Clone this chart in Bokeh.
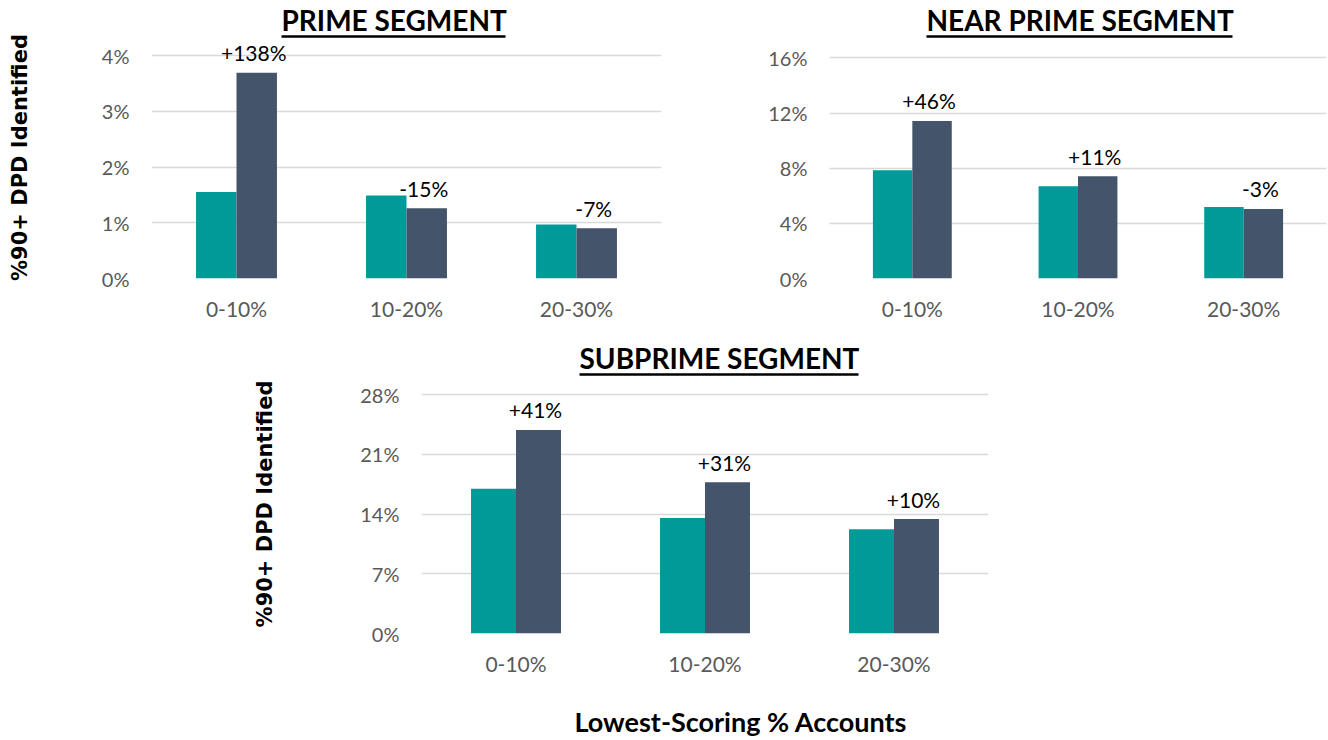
from bokeh.plotting import figure
from bokeh.models import (Range1d, FixedTicker, PrintfTickFormatter,
                          LinearAxis, Title, ColumnDataSource, Spacer)
from bokeh.transform import dodge
from bokeh.layouts import row, column
from bokeh.core.properties import value
from bokeh.embed import file_html
from bokeh.resources import INLINE

# ---------------- data ----------------
categories = ["0-10%", "10-20%", "20-30%"]

prime_base = [1.55, 1.49, 0.97]
prime_new = [3.69, 1.26, 0.90]
prime_delta = ["+138%", "-15%", "-7%"]

near_base = [7.85, 6.70, 5.19]
near_new = [11.43, 7.42, 5.05]
near_delta = ["+46%", "+11%", "-3%"]

sub_base = [16.99, 13.55, 12.22]
sub_new = [23.88, 17.74, 13.43]
sub_delta = ["+41%", "+31%", "+10%"]

prime_ticks = [0, 1, 2, 3, 4]
near_ticks = [0, 4, 8, 12, 16]
sub_ticks = [0, 7, 14, 21, 28]

titles = ["PRIME SEGMENT", "NEAR PRIME SEGMENT", "SUBPRIME SEGMENT"]
y_label = "%90+ DPD Identified"
x_label = "Lowest-Scoring % Accounts"

# ---------------- style ----------------
TEAL = "#009B98"
SLATE = "#44546A"
GRID = "#D9D9D9"
TICK_COL = "#595959"
FONT = "Lato"
BAR_W = 0.238

N = len(categories)
cat_pos = [i + 0.5 for i in range(N)]          # category slot centres


def make_panel(title, base, new, delta, ticks, *, width, height, border_left,
               border_right, border_top, border_bottom, top_tick_px,
               ul_left, ul_right, ylab_standoff=None):
    frame_h = height - border_top - border_bottom
    frame_w = width - border_left - border_right
    y_end = ticks[-1] * frame_h / top_tick_px
    p = figure(width=width, height=height, x_range=Range1d(0, N),
               y_range=Range1d(0, y_end), output_backend="svg",
               toolbar_location=None, title=None,
               min_border_left=border_left, min_border_right=border_right,
               min_border_top=border_top, min_border_bottom=border_bottom)
    p.outline_line_color = None
    p.background_fill_color = "white"
    p.border_fill_color = "white"

    src = ColumnDataSource(dict(pos=cat_pos, base=base, new=new, delta=delta))
    p.vbar(x=dodge("pos", -BAR_W / 2), top="base", width=BAR_W,
           source=src, fill_color=TEAL, line_color=None)
    p.vbar(x=dodge("pos", BAR_W / 2), top="new", width=BAR_W,
           source=src, fill_color=SLATE, line_color=None)
    p.text(x=dodge("pos", BAR_W / 2), y="new", text="delta",
           source=src, y_offset=-20, x_offset=-3, text_align="center",
           text_baseline="middle", text_font=value(FONT),
           text_font_size="21px", text_color="black")

    # axes
    p.xgrid.grid_line_color = None
    p.ygrid.grid_line_color = GRID
    p.ygrid.grid_line_width = 1.5
    p.xaxis.ticker = FixedTicker(ticks=cat_pos)
    p.xaxis.major_label_overrides = {pos: c for pos, c in zip(cat_pos, categories)}
    p.yaxis.ticker = FixedTicker(ticks=ticks)
    p.yaxis.formatter = PrintfTickFormatter(format="%d%%")
    for ax in (p.xaxis[0], p.yaxis[0]):
        ax.axis_line_color = None
        ax.major_tick_line_color = None
        ax.minor_tick_line_color = None
        ax.major_tick_out = 0
        ax.major_tick_in = 0
        ax.minor_tick_out = 0
        ax.minor_tick_in = 0
        ax.major_label_text_font = FONT
        ax.major_label_text_color = TICK_COL
    p.yaxis.major_label_text_font_size = "20px"
    p.yaxis.major_label_standoff = 22
    p.xaxis.major_label_text_font_size = "21px"
    p.xaxis.major_label_standoff = 17

    if ylab_standoff is not None:
        p.yaxis.axis_label = y_label
        p.yaxis.axis_label_text_font = "DejaVu Sans"
        p.yaxis.axis_label_text_font_style = "bold"
        p.yaxis.axis_label_text_font_size = "21px"
        p.yaxis.axis_label_text_color = "black"
        p.yaxis.axis_label_standoff = ylab_standoff

    # underline: an axis line above the frame, bounded to the title width
    to_x = lambda px: (px - border_left) / frame_w * N
    ul = LinearAxis(ticker=FixedTicker(ticks=[]),
                    bounds=(to_x(ul_left), to_x(ul_right)),
                    axis_line_color="black", axis_line_width=2.5,
                    major_tick_line_color=None, minor_tick_line_color=None,
                    major_tick_out=0, major_tick_in=0, minor_tick_out=0,
                    minor_tick_in=0, major_label_standoff=0,
                    major_label_text_font_size="0px")
    p.add_layout(ul, "above")
    p.add_layout(Title(text=title, align="left", offset=ul_left - border_left,
                       text_font=FONT, text_font_style="bold",
                       text_font_size="28px", text_color="black", standoff=0,
                       text_line_height=1.0), "above")
    return p


# prime: figure at (0,0), 676x338 ; frame x 151..661, y 36..278
p1 = make_panel(titles[0], prime_base, prime_new, prime_delta, prime_ticks,
                width=676, height=338, border_left=151, border_right=15,
                border_top=36, border_bottom=60, top_tick_px=223,
                ul_left=281, ul_right=505, ylab_standoff=67)

# near prime: figure at (676,0), 652x338 ; frame x 829..1326, y 36..281
p2 = make_panel(titles[1], near_base, near_new, near_delta, near_ticks,
                width=652, height=338, border_left=153, border_right=2,
                border_top=36, border_bottom=57, top_tick_px=223.3,
                ul_left=926 - 676, ul_right=1232 - 676)

# subprime: figure at (250,338), 750x402 ; frame x 421..988, y 374..633
p3 = make_panel(titles[2], sub_base, sub_new, sub_delta, sub_ticks,
                width=750, height=402, border_left=171, border_right=12,
                border_top=36, border_bottom=107, top_tick_px=238.7,
                ul_left=579 - 250, ul_right=858 - 250, ylab_standoff=80)

# shared x-axis title, centred under the whole panel group
xl_pos = round((741 - 421) / 567 * N, 2)
xl_axis = LinearAxis(ticker=FixedTicker(ticks=[xl_pos]),
                     major_label_overrides={xl_pos: x_label},
                     axis_line_color=None, major_tick_line_color=None,
                     minor_tick_line_color=None, major_tick_out=0, major_tick_in=0,
                     minor_tick_out=0, minor_tick_in=0, major_label_standoff=26,
                     major_label_text_font=FONT, major_label_text_font_style="bold",
                     major_label_text_font_size="27px",
                     major_label_text_color="black")
p3.add_layout(xl_axis, "below")

layout = column(row(p1, p2), row(Spacer(width=250, height=402), p3))
open("out.html", "w").write(file_html(layout, INLINE))
